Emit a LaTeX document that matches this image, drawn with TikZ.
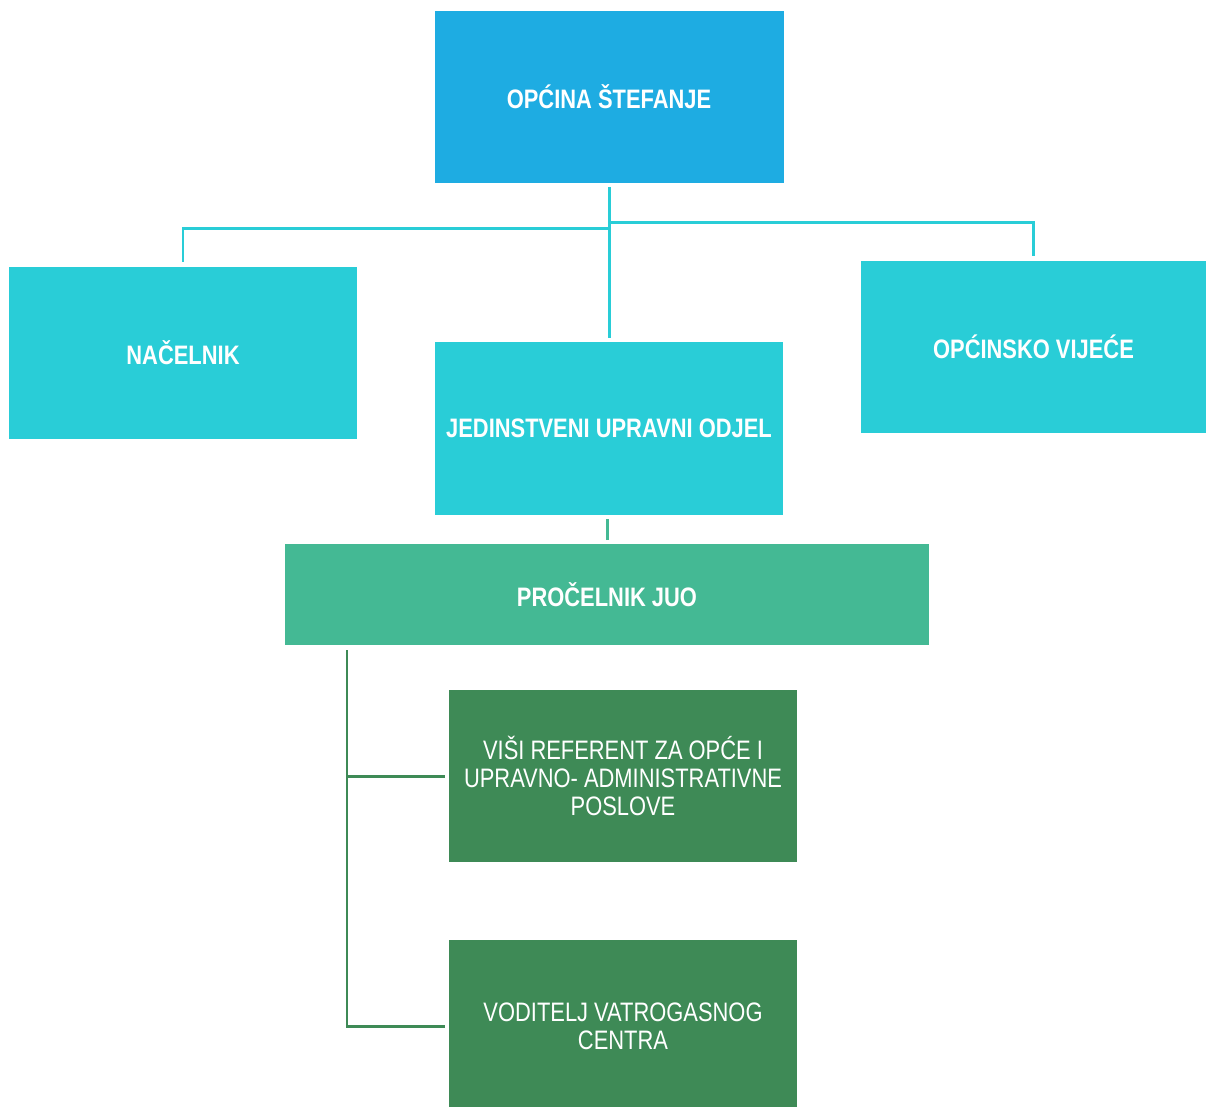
\documentclass[tikz,border=0pt]{standalone}
\usepackage{fontspec}
\setmainfont{Liberation Sans}[FakeStretch=0.82]
\usepackage{tikz}

\definecolor{topblue}{HTML}{1EACE2}
\definecolor{cyanbox}{HTML}{29CDD7}
\definecolor{mintbox}{HTML}{44B994}
\definecolor{darkbox}{HTML}{3E8A56}

\begin{document}
\begin{tikzpicture}[x=0.02cm, y=-0.02cm,
    box/.style = {rectangle, inner sep=0pt, text=white, align=center, font=\fontsize{15.2}{16}\selectfont},
    head/.style = {box, font=\fontsize{15.2}{16}\selectfont\bfseries},
    cline/.style = {cyanbox, line width=1.7pt},
    gline/.style = {darkbox, line width=1.7pt}]
    \useasboundingbox (0,0) rectangle (1206,1106);
    \clip (0,0) rectangle (1206,1106);
    \node[head, fill=topblue, minimum width=349*0.02cm, minimum height=172*0.02cm] (top) at (609,97) {OPĆINA ŠTEFANJE};
    \node[head, fill=cyanbox, minimum width=348*0.02cm, minimum height=172*0.02cm] (nac) at (183,353) {NAČELNIK};
    \node[head, fill=cyanbox, minimum width=348*0.02cm, minimum height=173*0.02cm] (juo) at (609,428.5) {JEDINSTVENI UPRAVNI ODJEL};
    \node[head, fill=cyanbox, minimum width=345*0.02cm, minimum height=172*0.02cm] (vij) at (1033.5,347) {OPĆINSKO VIJEĆE};
    \node[head, fill=mintbox, minimum width=644*0.02cm, minimum height=101*0.02cm] (pro) at (607,594.5) {PROČELNIK JUO};
    \node[box, fill=darkbox, minimum width=348*0.02cm, minimum height=172*0.02cm] (ref) at (623,776) {VIŠI REFERENT ZA OPĆE I\\UPRAVNO- ADMINISTRATIVNE\\POSLOVE};
    \node[box, fill=darkbox, minimum width=348*0.02cm, minimum height=172*0.02cm] (vod) at (623,1026) {VODITELJ VATROGASNOG\\CENTRA};
    % lines
    \coordinate (jl) at (609,228);
    \coordinate (jr) at (609,222);
    \coordinate (g) at (347,650);
    \draw[cline] ([yshift=-2pt]top.south) -- ([yshift=2pt]juo.north);
    \draw[cline] (jl) -| ([yshift=2.5pt]nac.north);
    \draw[cline] (jr) -| ([yshift=2.5pt]vij.north);
    \draw[mintbox, line width=1.7pt] ([yshift=2pt]pro.north) -- ([yshift=-2pt]pro.north |- juo.south);
    \draw[gline] (g) |- ([xshift=-2pt]ref.west);
    \draw[gline] (g) |- ([xshift=-2pt]vod.west);
\end{tikzpicture}
\end{document}
